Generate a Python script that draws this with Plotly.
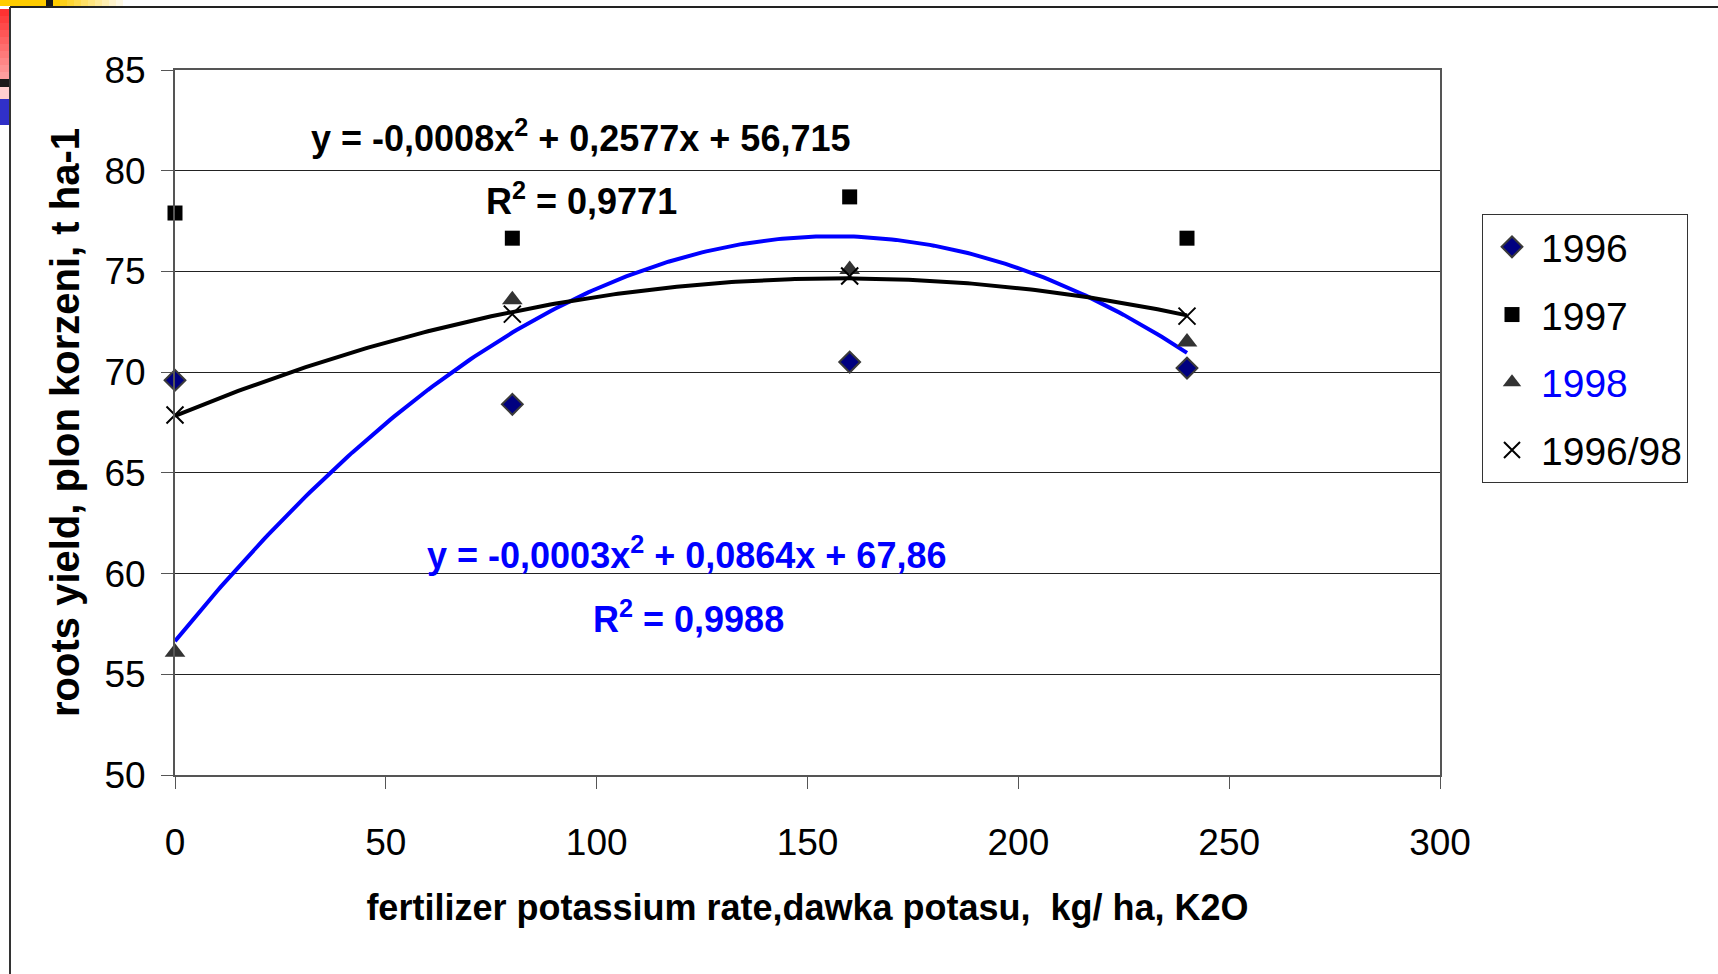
import numpy as np
import plotly.graph_objects as go

# ---------------- data ----------------
dose = [0, 80, 160, 240]
y1996 = [69.6, 68.4, 70.5, 70.2]
y1997 = [77.9, 76.65, 78.7, 76.65]
y1998 = [56.1, 73.6, 75.1, 71.5]
y_avg = [67.87, 72.88, 74.77, 72.78]
series_names = ["1996", "1997", "1998", "1996/98"]
x_ticks = [0, 50, 100, 150, 200, 250, 300]
y_ticks = [50, 55, 60, 65, 70, 75, 80, 85]

eq_black = "y = -0,0008x<sup>2</sup> + 0,2577x + 56,715"
r2_black = "R<sup>2</sup> = 0,9771"
eq_blue = "y = -0,0003x<sup>2</sup> + 0,0864x + 67,86"
r2_blue = "R<sup>2</sup> = 0,9988"
x_title = "fertilizer potassium rate,dawka potasu, \u00a0kg/ ha, K2O"
y_title = "roots yield, plon korzeni, t ha-1"

# ---------------- layout geometry ----------------
W, H = 1718, 974
L, R, T, B = 175, 1440, 70, 775  # plot area in pixels

def px(x):
    return (x - L) / (R - L)

def py(y):
    return (B - y) / (B - T)

FONT = "Liberation Sans, Arial, sans-serif"

fig = go.Figure()

# quadratic trendlines (least squares, as the chart's trendlines)
xs = np.linspace(0, 240, 241)
c98 = np.polyfit(dose, y1998, 2)
cav = np.polyfit(dose, y_avg, 2)
fig.add_trace(go.Scatter(x=xs, y=np.polyval(c98, xs), mode="lines",
                         line=dict(color="#0000FF", width=4), showlegend=False,
                         hoverinfo="skip", cliponaxis=False))
fig.add_trace(go.Scatter(x=xs, y=np.polyval(cav, xs), mode="lines",
                         line=dict(color="#000000", width=4), showlegend=False,
                         hoverinfo="skip", cliponaxis=False))

fig.add_trace(go.Scatter(x=dose, y=y1996, mode="markers", name=series_names[0],
                         legendgroup="a", cliponaxis=False,
                         marker=dict(symbol="diamond", size=16, color="#000080",
                                     line=dict(color="#3a3a3a", width=2))))
fig.add_trace(go.Scatter(x=dose, y=y1997, mode="markers", name=series_names[1],
                         legendgroup="b", cliponaxis=False,
                         marker=dict(symbol="square", size=15, color="#000000")))
fig.add_trace(go.Scatter(x=dose, y=y1998, mode="markers",
                         name="<span style='color:#0000FF'>" + series_names[2] + "</span>",
                         legendgroup="c", cliponaxis=False,
                         marker=dict(symbol="triangle-up", size=18, color="#333333")))
fig.add_trace(go.Scatter(x=dose, y=y_avg, mode="markers", name=series_names[3],
                         legendgroup="d", cliponaxis=False,
                         marker=dict(symbol="x-thin", size=17,
                                     line=dict(color="#000000", width=2))))

# ---------------- annotations ----------------
ann = [
    dict(text=eq_black, x=px(580), y=py(136), color="#000000"),
    dict(text=r2_black, x=px(581), y=py(199), color="#000000"),
    dict(text=eq_blue, x=px(686), y=py(553), color="#0000FF"),
    dict(text=r2_blue, x=px(688), y=py(617), color="#0000FF"),
]
for a in ann:
    fig.add_annotation(text="<b>" + a["text"] + "</b>", x=a["x"], y=a["y"],
                       xref="paper", yref="paper", showarrow=False,
                       xanchor="center", yanchor="middle",
                       font=dict(family=FONT, size=36, color=a["color"]))

# ---------------- frame decorations ----------------
shapes = []
def rect(x0, y0, x1, y1, color):
    shapes.append(dict(type="rect", xref="paper", yref="paper",
                       x0=px(x0), x1=px(x1), y0=py(y0), y1=py(y1),
                       fillcolor=color, line=dict(width=0), layer="above"))

rect(0, 0, 46, 6, "#FFCC00")
rect(46, 0, 53, 6, "#1a1a1a")
steps = 10
for i in range(steps):
    t = i / steps
    g = int(204 + (255 - 204) * t)
    b = int(0 + 255 * t)
    rect(53 + i * 7, 0, 53 + (i + 1) * 7, 6, f"rgb(255,{g},{b})")
for i in range(steps):
    t = i / steps
    g = int(50 + (170 - 50) * t)
    rect(0, 9 + i * 7, 9, 9 + (i + 1) * 7, f"rgb(255,{g},{g})")
rect(0, 79, 9, 87, "#1a1a1a")
rect(0, 87, 9, 99, "#FFD0D0")
rect(0, 99, 9, 125, "#3030C8")

shapes.append(dict(type="line", xref="paper", yref="paper",
                   x0=px(10), x1=px(W), y0=py(7), y1=py(7),
                   line=dict(color="#222222", width=2)))
shapes.append(dict(type="line", xref="paper", yref="paper",
                   x0=px(10), x1=px(10), y0=py(7), y1=py(H),
                   line=dict(color="#333333", width=2)))

fig.update_layout(
    width=W, height=H,
    margin=dict(l=L, r=W - R, t=T, b=H - B),
    paper_bgcolor="white", plot_bgcolor="white",
    font=dict(family=FONT, color="black"),
    shapes=shapes,
    showlegend=True,
    legend=dict(xref="container", yref="container",
                x=1482 / W, y=1 - 214 / H, xanchor="left", yanchor="top",
                bordercolor="#333333", borderwidth=1, bgcolor="white",
                font=dict(family=FONT, size=39, color="black"),
                traceorder="grouped", tracegroupgap=14, itemsizing="trace",
                itemwidth=48),
    xaxis=dict(range=[0, 300], tickvals=x_ticks, showgrid=False,
               showline=True, linecolor="#555555", linewidth=2, mirror=True,
               ticks="outside", ticklen=12, tickcolor="#555555",
               tickfont=dict(size=37), ticklabelstandoff=22,
               zeroline=False,
               title=dict(text="<b>" + x_title + "</b>", font=dict(size=36),
                          standoff=32)),
    yaxis=dict(range=[50, 85], tickvals=y_ticks, showgrid=True,
               gridcolor="#222222", gridwidth=1,
               showline=True, linecolor="#555555", linewidth=2, mirror=True,
               ticks="outside", ticklen=12, tickcolor="#555555",
               tickfont=dict(size=37), ticklabelstandoff=8,
               zeroline=False,
               title=dict(text="<b>" + y_title + "</b>", font=dict(size=40),
                          standoff=12)),
)

fig.write_html("out.html")
